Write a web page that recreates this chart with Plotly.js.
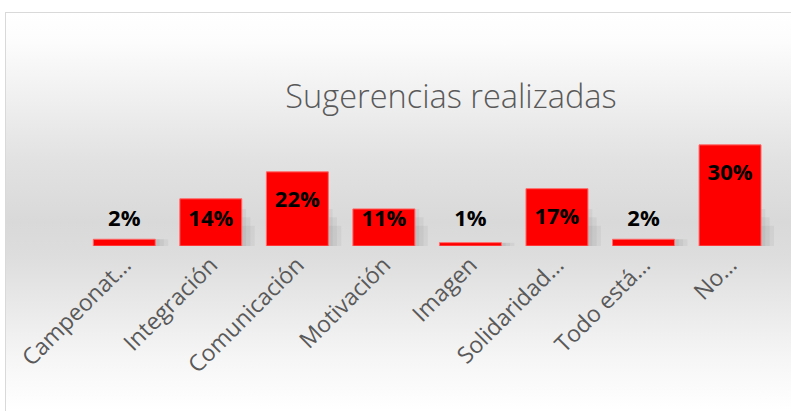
<!DOCTYPE html>
<html>
<head>
<meta charset="utf-8">
<script src="https://cdn.plot.ly/plotly-3.0.1.min.js"></script>
<style>
  html, body { margin: 0; padding: 0; width: 791px; height: 411px; overflow: hidden; background: #ffffff; }
  #bg {
    position: absolute; left: 5px; top: 12px; width: 800px; height: 420px;
    border: 1px solid #d9d9d9; box-sizing: border-box;
    background: linear-gradient(to bottom, #ffffff 0%, #fcfcfc 7%, #f0f0f0 20%, #e2e2e2 35%, #d9d9d9 50%, #dddddd 58%, #e9e9e9 70%, #f6f6f6 83%, #ffffff 95%, #ffffff 100%);
  }
  #chart { position: absolute; left: 0; top: 0; width: 791px; height: 411px; }
</style>
</head>
<body>
<div id="bg"></div>
<div id="chart"></div>
<script>
const categorias = ['Campeonat…', 'Integración', 'Comunicación', 'Motivación', 'Imagen', 'Solidaridad…', 'Todo está…', 'No…'];
const valores = [0.02, 0.14, 0.22, 0.11, 0.01, 0.17, 0.02, 0.30];
const etiquetas = valores.map(v => Math.round(v * 100) + '%');
const titulo = 'Sugerencias realizadas';

const barWidth = 0.716;
const shadowLayers = [
  { shift: 0.05, cap: 0.11, alpha: 0.045 },
  { shift: 0.10, cap: 0.085, alpha: 0.045 },
  { shift: 0.15, cap: 0.06, alpha: 0.045 }
];
const shadows = shadowLayers.map(s => ({
  type: 'bar', x: categorias, y: valores.map(v => Math.min(v, s.cap)),
  width: barWidth, offset: -barWidth / 2 + s.shift,
  marker: { color: 'rgba(0,0,0,' + s.alpha + ')' }, hoverinfo: 'skip', showlegend: false
}));
const bars = {
  type: 'bar', x: categorias, y: valores,
  width: barWidth, offset: -barWidth / 2,
  marker: { color: '#ff0000', line: { color: '#ff6a6a', width: 1 } },
  showlegend: false
};
const labels = {
  type: 'scatter', mode: 'text', x: categorias,
  y: valores.map(v => Math.max(v - 0.089, 0.077)),
  text: etiquetas, textposition: 'middle center',
  textfont: { family: 'Open Sans, sans-serif', size: 22, color: '#000000', weight: 'bold' },
  hoverinfo: 'skip', showlegend: false
};

const layout = {
  width: 791, height: 411,
  paper_bgcolor: 'rgba(0,0,0,0)', plot_bgcolor: 'rgba(0,0,0,0)',
  margin: { l: 81, r: 17, t: 128, b: 165 },
  barmode: 'overlay',
  title: {
    text: titulo, x: 451 / 791, xref: 'container', xanchor: 'center',
    y: 1 - 97 / 411, yref: 'container', yanchor: 'middle',
    font: { family: 'Open Sans, sans-serif', size: 32.5, color: '#595959', weight: 300 }
  },
  xaxis: {
    type: 'category', tickangle: -45, showgrid: false, zeroline: false, showline: false,
    ticks: '', tickfont: { family: 'Open Sans, sans-serif', size: 23, color: '#595959' },
    fixedrange: true
  },
  yaxis: {
    range: [0, 0.35], visible: false, showgrid: false, zeroline: false, fixedrange: true
  },
  showlegend: false
};

Plotly.newPlot('chart', [...shadows, bars, labels], layout, { displayModeBar: false, staticPlot: true });
</script>
</body>
</html>
